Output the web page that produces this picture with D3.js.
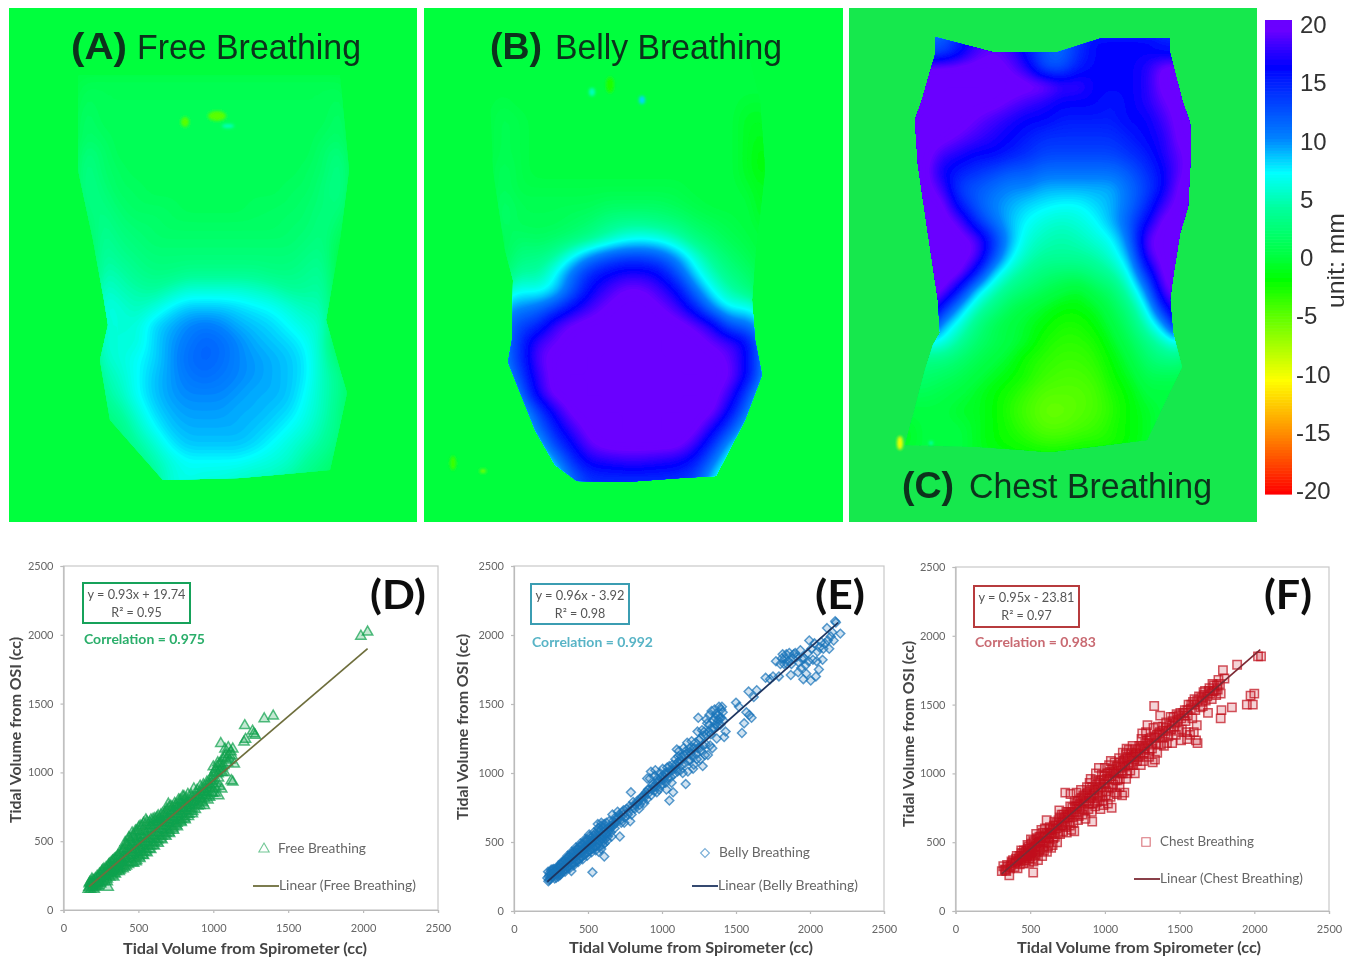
<!DOCTYPE html>
<html><head><meta charset="utf-8">
<script src="https://cdnjs.cloudflare.com/ajax/libs/d3/7.8.5/d3.min.js"></script>
<style>html,body{margin:0;padding:0;background:#fff;overflow:hidden}svg{display:block}</style>
</head><body><svg id="c" width="1361" height="961"></svg>
<script>
// ---- colour bar ----
const barStops=[-20,-15,-10.5,-2,0,4,7,10,16,18,19,20];
const barColors=["#ff0000","#ff8c00","#ffff00","#00ff00","#00ff40","#00ff9c","#00ffff","#0080ff","#0000ff","#4500ff","#6a00ff","#6a00ff"];
const barTicks=[20,15,10,5,0,-5,-10,-15,-20];

// ---- surface displacement grids (mm), 24 columns x 30 rows, rows padded with 0 ----
const freeGrid=[
[],[],[],[],
[0,0,0,0,1,1,1,1,1,1,1,1,1,1,1,1,1,1,1,1],
[0,0,0,0,1.5,1,1,1,1,1,1,1,1,1,1,1,1,1,1,1.5],
[0,0,0,0,2,1,1,1,1,1,1,1,1,1,1,1,1,1,1,2],
[0,0,0,0,2,1.5,1,1,1,1,1,1,1,1,1,1,1,1,1.5,2],
[0,0,0,0,3,2,1,1,1,1,1,1,1,1,1,1,1,1,2,3],
[0,0,0,0,3.5,2,1.5,1,1,1,1,1,1,1,1,1,1,1.5,2,3.5],
[0,0,0,0,3.5,2.5,1.5,1.5,1,1,1,1,1,1,1,1,1.5,1.5,2.5,3.5],
[0,0,0,0,3,3,2,1.5,1.5,1.5,1,1,1,1,1.5,1.5,1.5,2,2.5,3],
[0,0,0,0,2,3.5,2.5,2,2,1.5,1.5,1.5,1.5,1.5,1.5,1.5,2,2,3,2],
[0,0,0,0,1,4,3,2.5,2,2,2,2,2,2,2,2,2,2.5,3,1],
[0,0,0,0,0,4.5,3.5,3,2.5,2.5,2.5,2.5,2.5,2.5,2.5,2.5,2.5,3,3.5],
[0,0,0,0,0,5,4.5,3.5,3,3,3.5,3.5,3.5,3.5,3.5,3,3,3.5,4],
[0,0,0,0,0,6,5,4.5,4,5,6,6,6,6,5.5,5,4,4,4.5],
[0,0,0,0,0,6.5,6,5,6,7.5,8.5,8.5,8.5,8,7.5,7,6,5,5],
[0,0,0,0,0,6,6,6,8,9,10,10.5,10,9,8.5,8,7,6,5.5],
[0,0,0,0,0,6,6,6,8,9.5,10.5,11.5,11,10,9,8.5,8,7,5],
[0,0,0,0,0,5.5,6,7,8,9.5,11,11.5,11,10,9.5,9,8.5,7.5,5,2],
[0,0,0,0,0,4.5,5.5,7,8.5,9.5,10.5,11,10.5,10,9.5,9,8.5,7.5,5,3.5],
[0,0,0,0,0,4,5,7,8.5,9.5,10,10,10,9.5,9,9,8.5,7,5,3.5],
[0,0,0,0,0,3,4,6,8,9,9.5,9.5,9.5,9,9,8.5,8,6.5,5,3],
[0,0,0,0,0,2,3,5,7,8.5,9,9,9,9,8.5,8,7,6,4.5,3],
[0,0,0,0,0,2,2.5,4,5.5,7.5,8.5,8.5,8.5,8.5,8,7,6,5,4,2.5],
[0,0,0,0,0,1,2,3,4.5,6,7,7,7,7,6.5,6,5.5,4,3,1.5],
[0,0,0,0,0,0,1,2,3.5,6,6.5,6,6,5.5,5,5,4,3,2,1],
[0,0,0,0,0,0,1,2,3.5,6,6.5,6,6,5.5,5,5,4,3,2,1],
[]];
const bellyGrid=[
[],[],[],[],[],
[0,0,0,0,.5,0,0,0,0,0,0,0,0,0,0,0,0,0,-.5,-.5],
[0,0,0,0,1,.5,0,0,0,0,0,0,0,0,0,0,0,0,-1,-1],
[0,0,0,0,1,.5,0,0,0,0,0,0,0,0,0,0,0,0,-1,-1.5],
[0,0,0,0,1,.5,0,0,0,0,0,0,0,0,0,0,0,0,-1,-2],
[0,0,0,0,1.5,.5,0,0,0,0,0,0,0,0,0,0,0,0,-1,-2],
[0,0,0,0,1.5,.5,.5,.5,.5,.5,.5,.5,.5,.5,.5,0,0,0,-.5,-1.5],
[0,0,0,0,2,1,1,1,1,1,1.5,1.5,1.5,1.5,1,.5,0,0,0,-1.5],
[0,0,0,0,2,1,1,1,1.5,2,3,3.5,3.5,3,2.5,1.5,1,.5,0,-1],
[0,0,0,0,1,2,1.5,2,2.5,3.5,5,6.5,7,6.5,5,3,2,1,.5,-.5],
[0,0,0,0,1,3,3,4,7,10,12,13,13,12,9.5,6,3.5,2,1,0],
[0,0,0,0,1.5,4.5,4,7,11,14.5,16,17,17,16,12.5,8,5,3,2,.5],
[0,0,0,0,5,7,6.5,8,12,16,18,19.5,19.5,18,16,11,7,4.5,3,1],
[0,0,0,0,9,10,11,13,16,18,19.5,20,20,19.5,18,15,10,7,7,5],
[0,0,0,0,10,13,14,18,19.5,20,20,20,20,20,20,19,17,12,11,8],
[0,0,0,0,10,14,18,19,20,20,20,20,20,20,20,20,19,18,16,10],
[0,0,0,0,10,14,18.5,20,20,20,20,20,20,20,20,20,20,19,16,10],
[0,0,0,0,8,13,17.5,20,20,20,20,20,20,20,20,20,20,19.5,16,10],
[0,0,0,0,6,11,17,20,20,20,20,20,20,20,20,20,20,18,13,7],
[0,0,0,0,4,8,13,17,20,20,20,20,20,20,20,20,20,16,11,5],
[0,0,0,0,3,6,11,15,18,20,20,20,20,20,20,20,17,13,8,3],
[0,0,0,0,2,4,8,13,16,19,20,20,20,20,20,18,14,9,5,2],
[0,0,0,0,1,3,5,9,14,16.5,17,17.5,17.5,17,16.5,15,11,6,3,1],
[0,0,0,0,0,2,4,6,11,14,14,14,14,14,14,13,8,4,2],
[0,0,0,0,0,2,4,6,11,14,14,14,14,14,14,13,8,4,2],
[]];
const chestGrid=[
[],
[0,0,0,0,12,12,15,18,19,18,15,12,11,14,16,16,16,16,15,15,15],
[0,0,0,0,12,12,15,18,19,18,15,12,11,14,16,16,16,16,15,15,15],
[0,0,0,20,20,20,20,20,20,19,17,12,12,15,16,16,16,17,20,20,20],
[0,0,0,20,20,20,20,20,20,20,20,20,18,18,16,16,16,17,20,20,20],
[0,0,20,20,20,20,20,20,20,19,18,17,16,16,16,15,16,17,19,20,20],
[0,0,20,20,20,20,20,19,18,17,16,16,15,15,15,15,16,16,18,20,20,20],
[0,0,20,20,20,20,19,18,17,16,15,14,14,14,14,14,15,16,17,20,20,20],
[0,0,20,20,20,18,17,16,16,15,14,13,13,13,13,13,14,15,17,19,20,20],
[0,0,20,20,20,16,15,14,13,12,12,11,11,11,11,11,12,14,16,19,20,20],
[0,0,20,20,20,18,13,12,11,10,10,9,9,9,9,9,11,13,16,20,20,20],
[0,0,20,20,20,20,15,12,10,9,8,7.5,7,7,8,9,11,14,18,20,20],
[0,0,20,20,20,20,19,14,11,8.5,7,6,5.5,6,7,9,12,16,20,20,20],
[0,0,0,20,20,20,20,19,14,9,6,5,4.5,5,6,7,11,19,20,20,20],
[0,0,0,20,20,20,20,19,13,7.5,5,4,4,4,4.5,6,9,18,20,20,20],
[0,0,0,20,20,20,20,15,8,5,3.5,2.5,2,2,3,4,7,14,20,20,20],
[0,0,0,20,20,20,15,8,5,3,2,1,0,-1,1,2,5,10,19,20,20],
[0,0,0,20,20,15,9,5,3,1,0,-1,-2,-2,-1,1,3,7,15,20],
[0,0,0,18,17,9,6,3,1,0,-1,-2,-3,-3,-2,0,2,5,9,18],
[0,0,5,7,7,6.5,4,2,1,0,-1,-3,-3.5,-3.5,-3,-1,1,3,5,7],
[0,0,3,3,3,3,2,1,0,-1,-3,-3.5,-4,-4,-3.5,-2,0,2,3,3],
[0,0,2,2,2,1.5,1,0,-1,-2,-3,-4,-4.5,-4.5,-4,-2.5,-1,1,1,1],
[0,0,1,1,1,.5,0,-1,-2,-3,-4,-5,-5,-5,-4.5,-3,-2,0,0,0],
[0,0,0,0,0,0,-1,-1,-2,-3.5,-4.5,-5.5,-5.5,-5,-4.5,-3.5,-2,-1,0,0],
[0,0,-1,-1,0,0,0,-1,-2,-3,-4,-5,-5,-4.5,-4,-3,-2,-1,0,0],
[0,0,-1,-1,0,0,0,-1,-2,-2.5,-3,-3.5,-3.5,-3,-3,-3,-2,-1,0,0],
[0,0,0,0,0,0,0,-1,-1,-1,-1.5,-1.5,-1.5,-1.5,-1,-1,0,0,0,0],
[]];
// body outlines and small artefacts in surface coordinates
const freeOutline=[[69,67],[69,162],[84,232],[95,292],[99,317],[91,352],[101,412],[154,472],[231,470],[321,462],[338,385],[331,362],[317,312],[331,232],[340,162],[331,67]];
const bellyOutline=[[66,52],[66,92],[69,162],[81,242],[89,272],[88,332],[84,354],[111,422],[131,457],[153,473],[201,474],[256,470],[292,468],[321,412],[338,367],[331,332],[328,292],[331,252],[341,162],[336,92],[326,52]];
const chestOutline=[[86,29],[143,44],[209,44],[253,30],[321,30],[321,45],[333,92],[341,115],[342,142],[339,199],[331,225],[324,269],[321,292],[324,325],[333,359],[298,432],[201,444],[131,439],[56,437],[76,362],[84,337],[91,325],[89,292],[79,225],[69,157],[66,112],[73,92],[86,47]];
const freeSpots=[[176,114,4,5,-5],[208,108,9,5,-5],[219,118,6,2,5]];
const bellySpots=[[186,77,4,8,-3],[168,84,3,4,5],[218,92,3,4,8],[29,455,3,7,-4],[59,463,3,2,-6]];
const chestSpots=[[51,435,3,7,-10],[82,435,2,2,5]];

// ---- tidal volume readings (spirometer cc, OSI cc) ----
const freePoints=[[165,150],[170,165],[172,190],[180,150],[182,175],[185,205],[192,160],[195,185],[198,215],[205,150],[208,192],[212,228],[218,165],[222,205],[225,245],[232,178],[236,218],[240,262],[248,190],[250,232],[255,280],[262,205],[265,248],[270,298],[275,215],[280,262],[285,310],[298,165],[292,225],[296,272],[300,325],[308,240],[312,285],[318,345],[322,250],[328,298],[332,360],[338,265],[342,312],[348,375],[352,280],[356,328],[362,392],[366,290],[370,342],[375,420],[380,305],[384,358],[390,412],[398,300],[400,345],[404,395],[408,445],[412,490],[420,320],[424,372],[428,420],[432,470],[436,525],[442,345],[446,395],[450,440],[454,490],[458,560],[465,370],[468,415],[472,465],[476,515],[480,575],[486,385],[490,435],[494,480],[498,530],[502,600],[508,400],[512,450],[516,495],[520,545],[526,610],[532,420],[536,470],[540,520],[544,570],[550,655],[555,440],[560,490],[564,540],[568,590],[575,635],[580,465],[584,515],[588,565],[592,615],[598,660],[604,490],[608,540],[612,590],[616,640],[624,670],[630,510],[634,560],[638,610],[642,660],[650,690],[656,535],[660,585],[664,635],[668,680],[676,705],[682,560],[686,610],[690,655],[694,700],[700,770],[706,580],[710,630],[714,675],[718,720],[726,745],[732,605],[736,650],[740,695],[744,740],[752,765],[758,630],[762,675],[766,720],[770,760],[778,800],[784,660],[788,700],[792,745],[796,790],[804,825],[810,680],[814,725],[818,770],[822,810],[830,840],[838,720],[842,760],[846,800],[852,835],[860,740],[866,790],[870,880],[878,765],[884,820],[892,870],[900,780],[904,830],[912,900],[920,810],[926,860],[934,910],[940,760],[944,835],[950,880],[958,930],[964,800],[970,860],[978,910],[984,960],[992,880],[998,940],[1005,1000],[1012,850],[1018,920],[1025,1040],[1032,990],[1036,830],[1042,1060],[1050,1030],[1056,880],[1062,1100],[1070,1050],[1050,1210],[1078,1170],[1085,1130],[1095,1070],[1100,1180],[1105,1130],[1110,1090],[1118,1150],[1125,1120],[1130,1170],[1140,1060],[1120,940],[1130,930],[1210,1340],[1205,1220],[1215,1240],[1262,1300],[1270,1280],[1280,1270],[1340,1390],[1400,1410],[1985,1990],[2030,2020],
[175,200],[188,195],[200,170],[203,210],[215,185],[228,195],[232,240],[238,200],[245,250],[252,215],[258,262],[268,225],[272,270],[283,240],[288,290],[295,250],[302,300],[310,265],[315,315],[325,275],[330,330],[335,240],[345,290],[350,350],[358,300],[364,365],[372,280],[376,320],[382,380],[388,335],[394,430],[402,320],[407,370],[414,420],[418,465],[426,345],[430,395],[438,445],[440,495],[448,370],[452,415],[458,465],[462,530],[468,340],[474,440],[478,490],[482,545],[488,360],[492,410],[496,455],[500,505],[505,570],[510,375],[514,425],[518,470],[522,520],[528,580],[534,395],[538,445],[542,495],[546,545],[552,620],[558,415],[562,465],[566,515],[570,565],[578,610],[582,440],[586,490],[590,540],[594,590],[600,635],[606,465],[610,515],[614,565],[618,615],[626,645],[632,485],[636,535],[640,585],[644,635],[652,665],[658,510],[662,560],[666,610],[670,655],[678,680],[684,535],[688,585],[692,630],[696,675],[704,745],[708,555],[712,605],[716,650],[720,695],[728,720],[734,580],[738,625],[742,670],[746,715],[754,740],[760,605],[764,650],[768,695],[772,735],[780,775],[786,635],[790,680],[794,720],[798,765],[806,800],[812,655],[816,700],[820,745],[824,785],[836,695],[840,740],[848,780],[856,815],[862,715],[868,765],[880,795],[888,845],[896,755],[902,805],[910,855],[916,790],[924,835],[932,885],[942,810],[948,855],[956,905],[966,830],[974,885],[982,935],[990,850],[996,915],[1002,975],[1015,890],[1022,1000],[1034,960],[1045,1010],[1052,1060],[1060,1000],[1075,1110],[1090,1100],
[190,225],[210,170],[226,172],[244,205],[262,290],[276,250],[292,205],[306,335],[320,268],[326,355],[340,370],[346,262],[360,310],[368,395],[378,290],[392,350],[396,440],[410,310],[416,480],[434,330],[444,520],[456,345],[470,540],[484,350],[490,575],[504,385],[512,610],[528,400],[534,630],[548,425],[556,640],[572,445],[584,655],[596,470],[610,665],[622,495],[632,685],[648,520],[660,700],[674,545],[690,730],[702,565],[716,755],[730,590],[742,775],[752,615],[768,800],[782,645],[796,825],[808,665],[834,680],[860,700],[880,730],[910,760],[930,780],[955,830],[975,820],[995,850],[1000,1040],[1015,1020],[1030,1070],[1040,900],[1060,1040],[1075,1000]];
const bellyPoints=[[225,240],[230,285],[232,215],[240,260],[245,230],[250,290],[258,250],[262,300],[270,260],[275,235],[282,285],[290,265],[295,310],[300,250],[305,285],[312,335],[318,275],[322,305],[330,350],[335,290],[340,325],[348,370],[352,305],[358,345],[365,390],[370,320],[375,360],[382,410],[388,290],[392,345],[396,385],[402,430],[408,350],[414,395],[420,445],[426,360],[432,410],[438,465],[444,380],[450,430],[456,480],[462,395],[468,445],[474,500],[480,410],[486,460],[492,520],[498,425],[504,475],[510,540],[516,440],[522,490],[530,280],[536,455],[542,505],[548,560],[554,470],[560,520],[566,630],[572,430],[578,535],[584,590],[590,450],[596,550],[610,395],[606,610],[612,490],[618,560],[624,640],[630,510],[640,570],[650,600],[660,540],[665,700],[672,620],[690,640],[700,720],[715,540],[722,660],[735,720],[750,680],[770,700],[785,650],[790,860],[800,760],[815,740],[830,780],[850,770],[870,800],[885,830],[900,960],[905,850],[925,1010],[932,880],[945,900],[950,980],[965,860],[975,940],[985,1000],[995,910],[1010,950],[1020,1000],[1030,880],[1050,800],[1045,1000],[1060,970],[1075,860],[1085,1040],[1100,1170],[1105,1010],[1120,1090],[1135,1060],[1150,1130],[1160,920],[1170,1220],[1180,1090],[1195,1140],[1210,1030],[1220,1180],[1235,1100],[1245,1400],[1250,1240],[1265,1160],[1275,1050],[1285,1300],[1295,1210],[1305,1360],[1310,1130],[1320,1420],[1330,1280],[1340,1180],[1345,1380],[1355,1460],[1365,1430],[1375,1340],[1385,1480],[1390,1400],[1400,1460],[1410,1440],[1420,1260],[1430,1300],[1500,1510],[1520,1480],[1540,1290],[1555,1360],[1570,1440],[1585,1590],[1590,1420],[1605,1400],[1620,1550],[1640,1600],[1700,1690],[1730,1680],[1750,1700],[1770,1810],[1790,1700],[1810,1830],[1825,1790],[1840,1860],[1855,1810],[1870,1710],[1885,1830],[1900,1870],[1920,1730],[1935,1890],[1945,1830],[1955,1680],[1970,1780],[1985,1870],[1995,1960],[2005,1670],[2020,1820],[2040,1700],[2050,1880],[2060,1750],[2075,1950],[2085,1820],[2100,1940],[2115,2050],[2130,1900],[2140,1990],[2170,2100],[2175,2090],[2205,2010],[2160,1960],
[235,250],[242,275],[248,245],[255,270],[265,280],[272,300],[280,255],[288,300],[296,270],[302,320],[308,265],[315,300],[320,345],[326,290],[332,320],[338,360],[344,300],[350,340],[356,380],[362,315],[368,350],[374,395],[380,330],[386,370],[394,415],[400,340],[405,380],[412,425],[418,360],[424,400],[430,445],[436,375],[442,420],[448,465],[454,390],[460,430],[466,480],[472,405],[478,450],[484,500],[490,420],[496,465],[502,515],[508,435],[514,480],[520,530],[526,450],[532,495],[538,550],[544,465],[550,510],[558,470],[564,545],[570,490],[576,570],[582,505],[588,620],[594,520],[600,480],[604,570],[615,520],[622,590],[635,540],[645,610],[655,570],[668,650],[680,600],[685,680],[695,660],[710,700],[725,640],[740,700],[745,640],[760,740],[775,720],[795,700],[805,790],[820,770],[835,800],[845,740],[860,820],[875,840],[880,780],[892,860],[898,810],[910,880],[918,960],[928,840],[938,920],[948,870],[955,1020],[962,900],[970,960],[980,880],[990,970],[1000,920],[1005,1030],[1015,970],[1025,930],[1035,1040],[1040,960],[1055,1020],[1065,930],[1070,1060],[1080,990],[1090,1100],[1095,1030],[1110,1080],[1115,1160],[1125,1020],[1130,1120],[1140,1000],[1145,1180],[1155,1070],[1165,1140],[1175,1010],[1185,1180],[1190,1090],[1200,1230],[1205,1120],[1215,1060],[1225,1220],[1230,1140],[1240,1300],[1255,1180],[1260,1100],[1270,1310],[1280,1200],[1290,1130],[1300,1390],[1315,1300],[1325,1200],[1335,1450],[1350,1330],[1360,1400],[1370,1250],[1380,1420],[1395,1350],[1405,1480],[1415,1380],[1800,1790],[1815,1860],[1830,1830],[1845,1790],[1860,1870],[1875,1790],[1890,1860],[1910,1840],[1925,1800],[1940,1760],[1960,1830],[1975,1720],[1990,1810],[2010,1900],[2030,1940],[2045,1810],[2065,1910],[2090,1900],[2120,1960],[2150,2020],
[238,225],[252,300],[268,305],[285,240],[300,330],[312,260],[328,360],[345,285],[362,400],[376,310],[390,430],[404,330],[418,460],[434,355],[448,490],[464,375],[480,520],[494,400],[508,555],[524,425],[540,570],[552,440],[568,600],[580,470],[590,640],[598,500],[610,630],[626,560],[642,650],[655,620],[600,600],[575,600],[560,560],[545,530],[530,515],[515,505],[500,490],[485,475],[470,460],[455,445],[440,435],[425,420],[410,410],[395,395],[380,380],[365,365],[350,355],[335,340],[320,325],[305,305],[290,290],[275,275],[260,265],[600,530],[620,540],[640,600],[660,610],[680,640],[700,680],[720,690],[740,730],[780,760],[810,750],[840,790],[870,830],[905,880],[940,900],[965,930],[990,940],[1010,980],[1030,1000],[1050,1050],[1070,1020],[1090,1060],[1110,1120],[1130,1090],[1160,1160],[1190,1150],[1210,1180],[1240,1180],[1260,1250],[1280,1270],[1300,1280],[1320,1350],[1340,1320],[1360,1350],[1380,1380],[1400,1400]];
const chestPoints=[[310,290],[320,325],[335,300],[345,335],[360,260],[365,310],[380,350],[395,320],[405,380],[415,310],[430,340],[440,440],[445,380],[455,345],[465,410],[475,365],[485,455],[495,385],[505,520],[510,420],[520,280],[522,360],[530,470],[538,405],[545,530],[552,370],[560,445],[568,500],[575,590],[580,400],[590,470],[600,540],[610,660],[612,430],[625,500],[635,570],[640,460],[655,530],[660,650],[670,600],[680,500],[695,730],[700,560],[715,620],[730,680],[735,860],[745,570],[750,640],[760,720],[770,850],[775,590],[785,680],[795,580],[800,760],[810,860],[820,660],[830,740],[840,880],[850,700],[860,780],[870,670],[880,900],[890,740],[900,820],[905,960],[915,650],[920,780],[930,880],[940,1000],[945,790],[955,840],[960,1040],[970,740],[975,900],[985,800],[995,950],[1000,1040],[1010,870],[1020,780],[1030,960],[1040,1090],[1045,750],[1050,900],[1060,1010],[1070,950],[1080,850],[1090,1060],[1100,960],[1110,1000],[1115,840],[1120,1150],[1130,860],[1135,1050],[1145,1180],[1150,1000],[1165,1110],[1175,1060],[1185,1200],[1195,1100],[1200,1000],[1210,1150],[1225,1120],[1240,1060],[1250,1290],[1260,1140],[1270,1220],[1285,1350],[1300,1170],[1310,1260],[1320,1080],[1330,1490],[1335,1100],[1345,1220],[1355,1340],[1370,1420],[1385,1260],[1395,1200],[1410,1370],[1425,1270],[1440,1410],[1450,1220],[1465,1340],[1480,1430],[1495,1310],[1510,1240],[1525,1440],[1540,1380],[1550,1250],[1560,1500],[1570,1280],[1585,1400],[1595,1300],[1600,1540],[1610,1240],[1620,1220],[1630,1560],[1640,1480],[1660,1590],[1675,1530],[1690,1440],[1700,1620],[1715,1540],[1730,1640],[1745,1570],[1760,1680],[1775,1580],[1780,1460],[1775,1400],[1790,1750],[1800,1690],[1850,1480],[1885,1790],[1950,1500],[1990,1500],[1975,1565],[2000,1580],[2025,1850],[2045,1850],
[330,300],[350,320],[370,330],[385,370],[400,350],[410,400],[420,360],[428,400],[435,370],[442,420],[450,390],[458,440],[462,370],[470,430],[478,400],[482,480],[488,420],[492,350],[498,450],[502,400],[508,490],[515,380],[518,440],[525,500],[532,410],[536,470],[540,560],[548,430],[555,490],[562,540],[570,450],[578,510],[585,570],[592,440],[598,600],[605,500],[615,560],[620,470],[628,530],[632,610],[645,560],[650,480],[658,620],[665,540],[675,640],[685,570],[690,660],[705,620],[710,700],[720,580],[725,650],[738,610],[742,720],[755,680],[765,620],[768,760],[778,710],[790,640],[798,800],[805,700],[815,760],[825,690],[835,810],[845,740],[855,840],[865,730],[875,800],[885,860],[895,780],[898,930],[910,830],[912,720],[925,850],[935,760],[938,950],[950,880],[952,800],[965,930],[968,830],[980,990],[982,870],[990,770],[1002,920],[1005,840],[1015,1000],[1025,900],[1028,1060],[1038,830],[1042,980],[1055,920],[1065,1080],[1068,860],[1075,1000],[1085,950],[1095,1110],[1098,900],[1105,1040],[1120,1000],[1125,1090],[1140,1140],[1142,960],[1155,1060],[1160,1170],[1170,1020],[1180,1120],[1190,1060],[1205,1180],[1215,1090],[1230,1200],[1235,1130],[1245,1250],[1255,1090],[1265,1180],[1275,1300],[1290,1220],[1295,1120],[1315,1180],[1325,1330],[1340,1260],[1350,1150],[1362,1290],[1375,1210],[1390,1340],[1405,1290],[1415,1220],[1430,1360],[1445,1320],[1460,1410],[1475,1280],[1490,1390],[1505,1440],[1515,1320],[1535,1460],[1545,1300],[1555,1420],[1575,1470],[1590,1520],[1605,1460],[1615,1350],[1645,1550],[1655,1490],[1670,1600],[1685,1560],[1705,1580],[1720,1650],[1735,1600],[1750,1640],[1770,1650],
[340,290],[375,360],[392,345],[410,360],[425,380],[438,400],[452,420],[468,385],[475,440],[490,470],[500,430],[512,455],[520,510],[534,440],[542,490],[552,520],[565,480],[572,540],[588,510],[595,550],[608,570],[618,530],[630,590],[642,570],[652,600],[668,620],[678,600],[688,630],[698,680],[712,650],[722,700],[735,680],[748,700],[758,690],[772,720],[782,750],[792,720],[808,780],[818,800],[828,770],[842,820],[852,790],[862,830],[878,850],[888,820],[902,880],[915,900],[928,860],[942,920],[958,900],[972,950],[988,920],[998,980],[1012,960],[1022,1000],[1035,1010],[1048,1030],[1062,1000],[1078,1050],[1088,1020],[1102,1080],[1118,1070],[1132,1100],[1148,1110],[1162,1070],[1178,1150],[1192,1130],[1208,1140],[1222,1170],[1238,1180],[1252,1200],[1268,1150],[1280,1240],[1298,1250],[1312,1210],[1330,1260],[1348,1280],[1368,1300],[1388,1310],[1408,1330],[1428,1310],[1452,1380],[1472,1370],[1492,1420],[1512,1400],[1532,1420],[1552,1460],[1578,1500],[1598,1500],[1618,1530],[1650,1520],[1665,1570],[1695,1600],[1725,1600],[1755,1610]];
const freeFit=[[170,170],[2030,1900]];
const bellyFit=[[225,212],[2190,2090]];
const chestFit=[[310,270],[2040,1900]];
const axisTicks=[0,500,1000,1500,2000,2500];

const svg=d3.select("#c");
const defs=svg.append("defs");
const soft=defs.append("filter").attr("id","soft").attr("x","-5%").attr("y","-5%").attr("width","110%").attr("height","110%");
soft.append("feGaussianBlur").attr("stdDeviation",0.55);
const spotBlur=defs.append("filter").attr("id","spot").attr("x","-100%").attr("y","-100%").attr("width","300%").attr("height","300%");
spotBlur.append("feGaussianBlur").attr("stdDeviation",1.5);
const root=svg.append("g").attr("filter","url(#soft)");
const color=d3.scaleLinear().domain(barStops).range(barColors).clamp(true);
const COLS=24,ROWS=30,FINE=4;

// resample the coarse grid for smooth drawing: bilinear, then repeated box smoothing
function resample(grid){
  const n=COLS*FINE,m=ROWS*FINE;
  const at=(i,j)=>{const r=grid[Math.max(0,Math.min(ROWS-1,j))]||[];return r[Math.max(0,Math.min(COLS-1,i))]||0;};
  let out=new Float64Array(n*m);
  for(let J=0;J<m;J++)for(let I=0;I<n;I++){
    const u=(I+.5)/FINE-.5,v=(J+.5)/FINE-.5,i=Math.floor(u),j=Math.floor(v),a=u-i,b=v-j;
    out[J*n+I]=(1-b)*((1-a)*at(i,j)+a*at(i+1,j))+b*((1-a)*at(i,j+1)+a*at(i+1,j+1));
  }
  const R=1;
  for(let pass=0;pass<3;pass++){
    let tmp=new Float64Array(n*m);
    for(let J=0;J<m;J++)for(let I=0;I<n;I++){let s=0,c=0;for(let d=-R;d<=R;d++){const k=I+d;if(k>=0&&k<n){s+=out[J*n+k];c++;}}tmp[J*n+I]=s/c;}
    let tmp2=new Float64Array(n*m);
    for(let J=0;J<m;J++)for(let I=0;I<n;I++){let s=0,c=0;for(let d=-R;d<=R;d++){const k=J+d;if(k>=0&&k<m){s+=tmp[k*n+I];c++;}}tmp2[J*n+I]=s/c;}
    out=tmp2;
  }
  return Array.from(out);
}

function heat(id,x0,w,y0,h,bg,grid,outline,spots){
  const g=root.append("g");
  g.append("rect").attr("x",x0).attr("y",y0).attr("width",w).attr("height",h).attr("fill",bg);
  const sx=d3.scaleLinear().domain([0,w]).range([x0,x0+w]);
  const sy=d3.scaleLinear().domain([0,h]).range([y0,y0+h]);
  const cx=d3.scaleLinear().domain([0,COLS*FINE]).range([x0,x0+w]);
  const cy=d3.scaleLinear().domain([0,ROWS*FINE]).range([y0,y0+h]);
  const outlinePath=d3.line().x(d=>sx(d[0])).y(d=>sy(d[1])).curve(d3.curveLinearClosed)(outline);
  defs.append("clipPath").attr("id","clip"+id).append("path").attr("d",outlinePath);
  g.append("path").attr("d",outlinePath).attr("fill",color(0));
  const flat=resample(grid);
  const path=d3.geoPath(d3.geoTransform({point(a,b){this.stream.point(cx(a),cy(b));}}));
  const body=g.append("g").attr("clip-path",`url(#clip${id})`);
  const lv=d3.range(0.25,20.25,0.25);
  const cont=d3.contours().size([COLS*FINE,ROWS*FINE]);
  body.selectAll("path.p").data(cont.thresholds(lv)(flat)).join("path").attr("class","p")
    .attr("d",path).attr("fill",d=>color(d.value));
  body.selectAll("path.n").data(cont.thresholds(lv)(flat.map(v=>-v))).join("path").attr("class","n")
    .attr("d",path).attr("fill",d=>color(-d.value));
  g.selectAll("ellipse").data(spots).join("ellipse")
    .attr("cx",d=>sx(d[0])).attr("cy",d=>sy(d[1])).attr("rx",d=>d[2]).attr("ry",d=>d[3])
    .attr("fill",d=>color(d[4])).attr("filter","url(#spot)");
}
heat("A",9,408,8,514,"#00ff3c",freeGrid,freeOutline,freeSpots);
heat("B",424,419,8,514,"#00ff3c",bellyGrid,bellyOutline,bellySpots);
heat("C",849,408,8,514,"#12e84e",chestGrid,chestOutline,chestSpots);

function label(x,y,t,size,weight,fill,len,family){
  const e=root.append("text").attr("x",x).attr("y",y).text(t).attr("font-size",size).attr("font-weight",weight)
    .attr("fill",fill).attr("font-family",family||"'Liberation Sans',Arial,sans-serif");
  if(len)e.attr("textLength",len).attr("lengthAdjust","spacingAndGlyphs");
  return e;
}
const ink="#08301a";
label(71,59,"(A)",36,700,ink,56);label(137,59,"Free Breathing",35,400,ink,224);
label(490,59,"(B)",36,700,ink,52);label(555,59,"Belly Breathing",35,400,ink,227);
label(902,498,"(C)",36,700,ink,52);label(969,498,"Chest Breathing",35,400,ink,243);

// colour bar
const barY=d3.scaleLinear().domain([20,-20]).range([20,494]);
root.append("g").selectAll("rect").data(d3.range(-20,20,0.25)).join("rect")
  .attr("x",1265).attr("width",27).attr("y",d=>barY(d+0.25)).attr("height",barY(0)-barY(0.25)+0.6).attr("fill",d=>color(d));
const labY=d3.scaleLinear().domain([20,-20]).range([25,491]);
const barAxis=root.append("g").attr("transform","translate(1300,0)")
  .call(d3.axisRight(labY).tickValues(barTicks).tickFormat(d=>String(d)).tickSize(0).tickPadding(0));
barAxis.select(".domain").remove();
barAxis.selectAll("text").attr("font-size",24).attr("font-family","'Liberation Sans',Arial,sans-serif").attr("fill","#333")
  .attr("x",d=>d<0?-4:0);
label(0,0,"unit:  mm",24,400,"#333",95).attr("transform","translate(1344,308) rotate(-90)");

const lato="Lato,'Open Sans',sans-serif";
function scatter(o){
  const x=d3.scaleLinear().domain([0,2500]).range([o.l,o.r]);
  const y=d3.scaleLinear().domain([0,2500]).range([o.b,o.t]);
  const g=root.append("g");
  g.append("rect").attr("x",o.l).attr("y",o.t).attr("width",o.r-o.l).attr("height",o.b-o.t).attr("fill","#fff").attr("stroke","#c8c8c8").attr("stroke-width",1.2);
  const ax=g.append("g").attr("transform",`translate(0,${o.b})`).call(d3.axisBottom(x).tickValues(axisTicks).tickFormat(d=>String(d)).tickSize(3).tickPadding(11));
  const ay=g.append("g").attr("transform",`translate(${o.l},0)`).call(d3.axisLeft(y).tickValues(axisTicks).tickFormat(d=>String(d)).tickSize(3).tickPadding(7));
  [ax,ay].forEach(a=>{a.selectAll("path,line").attr("stroke","#bbb").attr("stroke-width",1.2);
    a.selectAll("text").attr("font-size",11).attr("font-family",lato).attr("fill","#666");});
  const sym=d3.symbol().type(o.symbol).size(o.size);
  g.append("g").selectAll("path").data(o.points).join("path")
    .attr("transform",d=>`translate(${x(d[0])},${y(d[1])})`).attr("d",sym)
    .attr("fill",o.color).attr("fill-opacity",o.fillOp).attr("stroke",o.color).attr("stroke-width",1.5).attr("stroke-opacity",0.72);
  g.append("path").attr("d",d3.line().x(d=>x(d[0])).y(d=>y(d[1]))(o.fit)).attr("fill","none").attr("stroke",o.fitColor).attr("stroke-width",1.7);
  // equation box
  g.append("rect").attr("x",o.box[0]).attr("y",o.box[1]).attr("width",o.box[2]).attr("height",o.box[3]).attr("fill","#fff").attr("stroke",o.boxColor).attr("stroke-width",2);
  const mid=o.box[0]+o.box[2]/2;
  label(mid,o.box[1]+16,o.eq,12.5,400,"#555",o.box[2]-9,lato).attr("text-anchor","middle");
  label(mid,o.box[1]+34,"R² = "+o.r2,12.5,400,"#555",null,lato).attr("text-anchor","middle");
  label(o.box[0]+1,o.corrY,"Correlation =  "+o.corr,12.5,700,o.corrColor,121,lato);
  label(o.tagX,609,o.tag,40,700,"#111",o.tagW,lato);
  // legend
  g.append("path").attr("transform",`translate(${o.lg[0]},${o.lg[1]})`).attr("d",sym).attr("fill","none").attr("stroke",o.color).attr("stroke-opacity",0.6).attr("stroke-width",1.1);
  label(o.lg[0]+14,o.lg[1]+4,o.name,13,400,"#666",o.nameW,lato);
  g.append("line").attr("x1",o.lg[2]).attr("x2",o.lg[2]+26).attr("y1",o.lg[3]).attr("y2",o.lg[3]).attr("stroke",o.fitColor).attr("stroke-width",1.8);
  label(o.lg[2]+26,o.lg[3]+4,"Linear ("+o.name+")",13,400,"#666",o.linW,lato);
  label((o.xt[0]+o.xt[1])/2,o.xt[2],"Tidal Volume from Spirometer (cc)",15.5,700,"#444",o.xt[1]-o.xt[0],lato).attr("text-anchor","middle");
  label(0,0,"Tidal Volume from OSI (cc)",15.5,700,"#444",186,lato).attr("text-anchor","middle")
    .attr("transform",`translate(${o.yt[0]},${o.yt[1]}) rotate(-90)`);
}
scatter({l:63.5,r:438,t:566,b:910,points:freePoints,fit:freeFit,symbol:d3.symbolTriangle,size:46,fillOp:.25,color:"#12a24f",fitColor:"#6e6e3c",
  box:[83,583,107,40],boxColor:"#14a25a",eq:"y = 0.93x + 19.74",r2:"0.95",corr:"0.975",corrY:644,corrColor:"#2aae6a",tag:"(D)",tagX:370,tagW:56,
  lg:[264,849,253,886],name:"Free Breathing",nameW:88,linW:137,xt:[123,367,954],yt:[21,730]});
scatter({l:514,r:884,t:566,b:911,points:bellyPoints,fit:bellyFit,symbol:d3.symbolDiamond2,size:50,fillOp:.2,color:"#1a74ba",fitColor:"#1f3560",
  box:[531,584,98,40],boxColor:"#3a9db2",eq:"y = 0.96x - 3.92",r2:"0.98",corr:"0.992",corrY:647,corrColor:"#58b4c6",tag:"(E)",tagX:815,tagW:50,
  lg:[705,853,692,886],name:"Belly Breathing",nameW:91,linW:140,xt:[569,813,953],yt:[468,727]});
scatter({l:955.5,r:1329,t:567,b:911,points:chestPoints,fit:chestFit,symbol:d3.symbolSquare,size:70,fillOp:.18,color:"#c0121f",fitColor:"#7c2a34",
  box:[974,586,105,41],boxColor:"#b73a3e",eq:"y = 0.95x - 23.81",r2:"0.97",corr:"0.983",corrY:647,corrColor:"#c96a72",tag:"(F)",tagX:1264,tagW:48,
  lg:[1146,842,1134,879],name:"Chest Breathing",nameW:94,linW:143,xt:[1017,1261,953],yt:[914,734]});
</script></body></html>
